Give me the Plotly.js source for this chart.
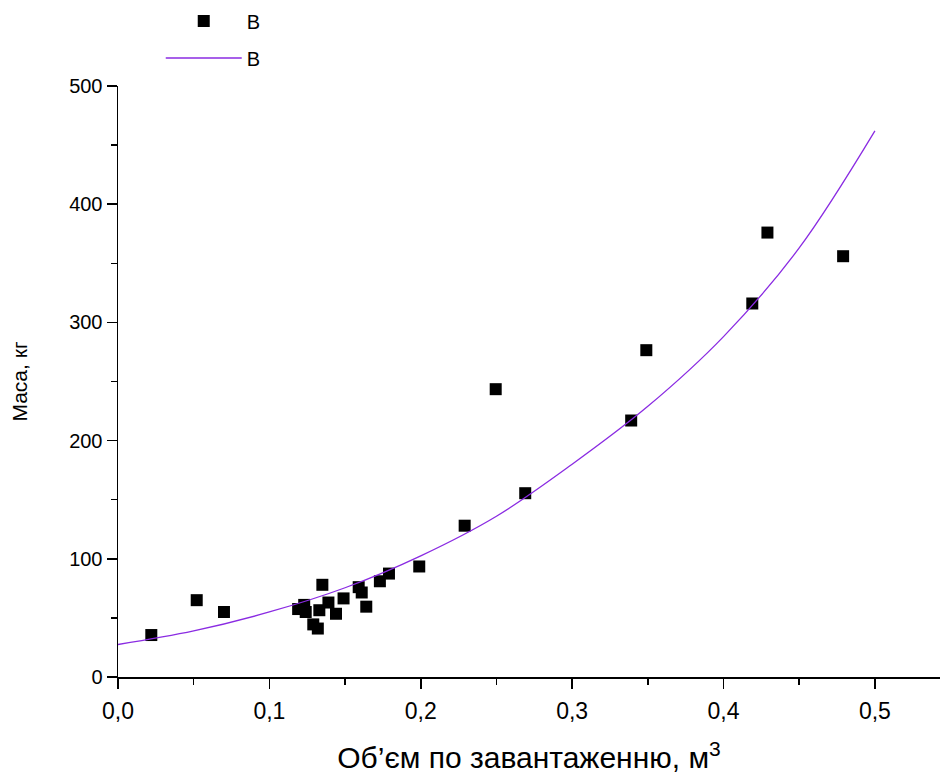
<!DOCTYPE html>
<html>
<head>
<meta charset="utf-8">
<script src="https://cdn.plot.ly/plotly-3.0.1.min.js"></script>
<style>html,body{margin:0;padding:0;background:#fff;}#chart{width:942px;height:778px;}</style>
</head>
<body>
<div id="chart"></div>
<script>
// Measured points (volume, m3 ; mass, kg)
const pointsX = [0.022, 0.052, 0.070, 0.119, 0.123, 0.124, 0.129, 0.132, 0.133, 0.135, 0.139, 0.144, 0.149, 0.159, 0.161, 0.164, 0.173, 0.179, 0.199, 0.229, 0.2495, 0.269, 0.339, 0.349, 0.419, 0.429, 0.479];
const pointsY = [35.5, 65, 55, 57.5, 61, 55, 44.5, 41, 56.5, 78, 63, 53.5, 66.5, 76, 71.5, 59.5, 81, 87.5, 93.5, 128, 243.5, 155.5, 217, 276.5, 316, 376, 356];
// Fitted curve
const curveX = [0, 0.05, 0.1, 0.15, 0.2, 0.25, 0.3, 0.35, 0.4, 0.45, 0.5];
const curveY = [27.5, 39, 55, 75.5, 102.5, 136, 180, 229, 288, 363, 462];
const seriesName = 'B';
const xTickVals = [0, 0.1, 0.2, 0.3, 0.4, 0.5];
const xTickText = ['0,0', '0,1', '0,2', '0,3', '0,4', '0,5'];
const yTickVals = [0, 100, 200, 300, 400, 500];

const FONT = 'Liberation Sans, Arial, sans-serif';

const traces = [
  {x: pointsX, y: pointsY, type: 'scatter', mode: 'markers', name: seriesName, legendgroup: 'g1',
   marker: {symbol: 'square', size: 12, color: '#000000'}},
  {x: curveX, y: curveY, type: 'scatter', mode: 'lines', name: seriesName, legendgroup: 'g2',
   line: {color: '#8a2be2', width: 1.3, shape: 'spline', smoothing: 1}}
];

const layout = {
  width: 942, height: 778,
  margin: {l: 118, r: 2, t: 86, b: 101},
  paper_bgcolor: '#ffffff', plot_bgcolor: '#ffffff',
  font: {family: FONT, size: 19, color: '#000000'},
  showlegend: true,
  legend: {x: 0.052, y: 1.143, xanchor: 'left', yanchor: 'top', bgcolor: 'rgba(0,0,0,0)',
    traceorder: 'grouped', tracegroupgap: 8,
    font: {size: 20, family: FONT, color: '#000000'}, itemwidth: 76},
  xaxis: {
    range: [0, 0.543], showgrid: false, zeroline: false, showline: true, linecolor: '#000', linewidth: 1.5,
    ticks: 'outside', ticklen: 10, tickwidth: 1.5, tickcolor: '#000',
    tickvals: xTickVals, ticktext: xTickText, ticklabelstandoff: 3,
    tickfont: {size: 23, family: FONT, color: '#000000'},
    minor: {dtick: 0.05, ticks: 'outside', ticklen: 6, tickwidth: 1.5, tickcolor: '#000'},
    title: {text: 'Об’єм по завантаженню, м<sup>3</sup>', standoff: 24,
      font: {size: 30, family: FONT, color: '#000000'}}
  },
  yaxis: {
    range: [0, 500], showgrid: false, zeroline: false, showline: true, linecolor: '#000', linewidth: 1.5,
    ticks: 'outside', ticklen: 10, tickwidth: 1.5, tickcolor: '#000',
    tickvals: yTickVals, tickfont: {size: 20, family: FONT, color: '#000000'},
    minor: {dtick: 50, ticks: 'outside', ticklen: 6, tickwidth: 1.5, tickcolor: '#000'},
    title: {text: 'Маса, кг', font: {size: 21, family: FONT, color: '#000000'}, standoff: 36}
  }
};

Plotly.newPlot('chart', traces, layout, {displayModeBar: false, staticPlot: true});
</script>
</body>
</html>
